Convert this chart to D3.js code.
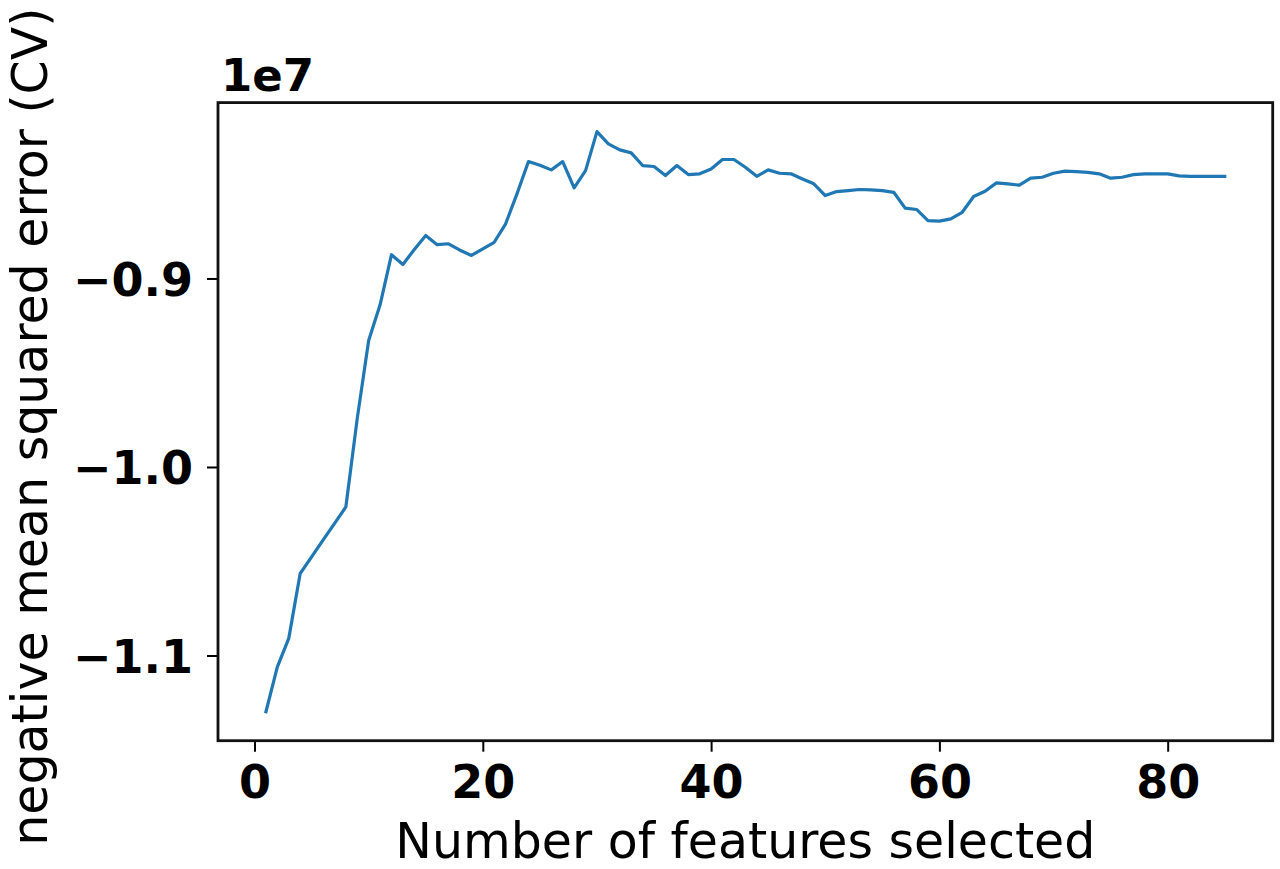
<!DOCTYPE html>
<html>
<head>
<meta charset="utf-8">
<script src="https://cdn.jsdelivr.net/npm/d3@7"></script>
<style>
  html, body { margin: 0; padding: 0; background: #fff; }
  svg { display: block; }
</style>
</head>
<body>
<svg id="chart" width="1280" height="869"></svg>
<script>
// Number of features selected
const features = d3.range(1, 86);
// Cross-validated negative mean squared error (units of 1e7)
const scoresE7 = [
  -1.1298, -1.1060, -1.0909, -1.0565, -1.0477, -1.0388, -1.0300, -1.0212, -0.9742, -0.9329,
  -0.9140, -0.8874, -0.8926, -0.8846, -0.8772, -0.8821, -0.8816, -0.8850, -0.8878, -0.8843,
  -0.8808, -0.8710, -0.8550, -0.8380, -0.8400, -0.8424, -0.8380, -0.8519, -0.8428, -0.8221,
  -0.8286, -0.8318, -0.8334, -0.8401, -0.8406, -0.8454, -0.8401, -0.8449, -0.8445, -0.8419,
  -0.8369, -0.8369, -0.8410, -0.8458, -0.8424, -0.8442, -0.8445, -0.8472, -0.8498, -0.8560,
  -0.8539, -0.8534, -0.8528, -0.8530, -0.8534, -0.8543, -0.8627, -0.8634, -0.8693, -0.8696,
  -0.8684, -0.8649, -0.8565, -0.8537, -0.8493, -0.8498, -0.8505, -0.8468, -0.8463, -0.8442,
  -0.8431, -0.8433, -0.8437, -0.8445, -0.8468, -0.8463, -0.8449, -0.8445, -0.8445, -0.8445,
  -0.8456, -0.8458, -0.8458, -0.8458, -0.8458
];
const xTicks = [0, 20, 40, 60, 80];
const yTicksE7 = [-1.1, -1.0, -0.9];
const offsetLabel = "1e7";
const xLabel = "Number of features selected";
const yLabel = "negative mean squared error (CV)";

const data = features.map((f, i) => ({ x: f, y: scoresE7[i] * 1e7 }));

const svg = d3.select("#chart");
const pLeft = 218, pRight = 1272.7, pTop = 102.6, pBottom = 740.7;

// matplotlib-like 5% margins
const xExt = d3.extent(data, d => d.x), yExt = d3.extent(data, d => d.y);
const xPad = (xExt[1] - xExt[0]) * 0.05, yPad = (yExt[1] - yExt[0]) * 0.05;
const x = d3.scaleLinear().domain([xExt[0] - xPad, xExt[1] + xPad]).range([pLeft, pRight]);
const y = d3.scaleLinear().domain([yExt[0] - yPad, yExt[1] + yPad]).range([pBottom, pTop]);

const tickFont = "'DejaVu Sans', sans-serif";

// line
svg.append("path")
  .datum(data)
  .attr("fill", "none")
  .attr("stroke", "#1f77b4")
  .attr("stroke-width", 3.2)
  .attr("stroke-linejoin", "round")
  .attr("stroke-linecap", "square")
  .attr("d", d3.line().x(d => x(d.x)).y(d => y(d.y)));

// x axis
const xAxis = svg.append("g")
  .attr("transform", `translate(0,${pBottom})`)
  .call(d3.axisBottom(x).tickValues(xTicks).tickFormat(d3.format("d")).tickSize(11).tickPadding(14));
xAxis.select(".domain").remove();
xAxis.selectAll(".tick line").attr("stroke", "#000").attr("stroke-width", 2);
xAxis.selectAll(".tick text")
  .attr("fill", "#000")
  .style("font-family", tickFont).style("font-weight", "bold").style("font-size", "46px");

// y axis
const fmtY = v => (v / 1e7).toFixed(1).replace("-", "\u2212");
const yAxis = svg.append("g")
  .attr("transform", `translate(${pLeft},0)`)
  .call(d3.axisLeft(y).tickValues(yTicksE7.map(v => v * 1e7)).tickFormat(fmtY).tickSize(11).tickPadding(14));
yAxis.select(".domain").remove();
yAxis.selectAll(".tick line").attr("stroke", "#000").attr("stroke-width", 2);
yAxis.selectAll(".tick text")
  .attr("fill", "#000")
  .attr("dy", "0.36em")
  .style("font-family", tickFont).style("font-weight", "bold").style("font-size", "46px");

// frame
svg.append("rect")
  .attr("x", pLeft).attr("y", pTop)
  .attr("width", pRight - pLeft).attr("height", pBottom - pTop)
  .attr("fill", "none").attr("stroke", "#111").attr("stroke-width", 2.8);

// offset text
svg.append("text")
  .attr("x", pLeft + 3).attr("y", 91)
  .style("font-family", tickFont).style("font-weight", "bold").style("font-size", "45px")
  .attr("fill", "#000")
  .text(offsetLabel);

// axis labels
svg.append("text")
  .attr("x", (pLeft + pRight) / 2).attr("y", 858)
  .attr("text-anchor", "middle")
  .style("font-family", tickFont).style("font-size", "49px")
  .attr("fill", "#000")
  .text(xLabel);

svg.append("text")
  .attr("transform", `translate(47,${(pTop + pBottom) / 2 + 5}) rotate(-90)`)
  .attr("text-anchor", "middle")
  .style("font-family", tickFont).style("font-size", "49px")
  .attr("fill", "#000")
  .text(yLabel);
</script>
</body>
</html>
